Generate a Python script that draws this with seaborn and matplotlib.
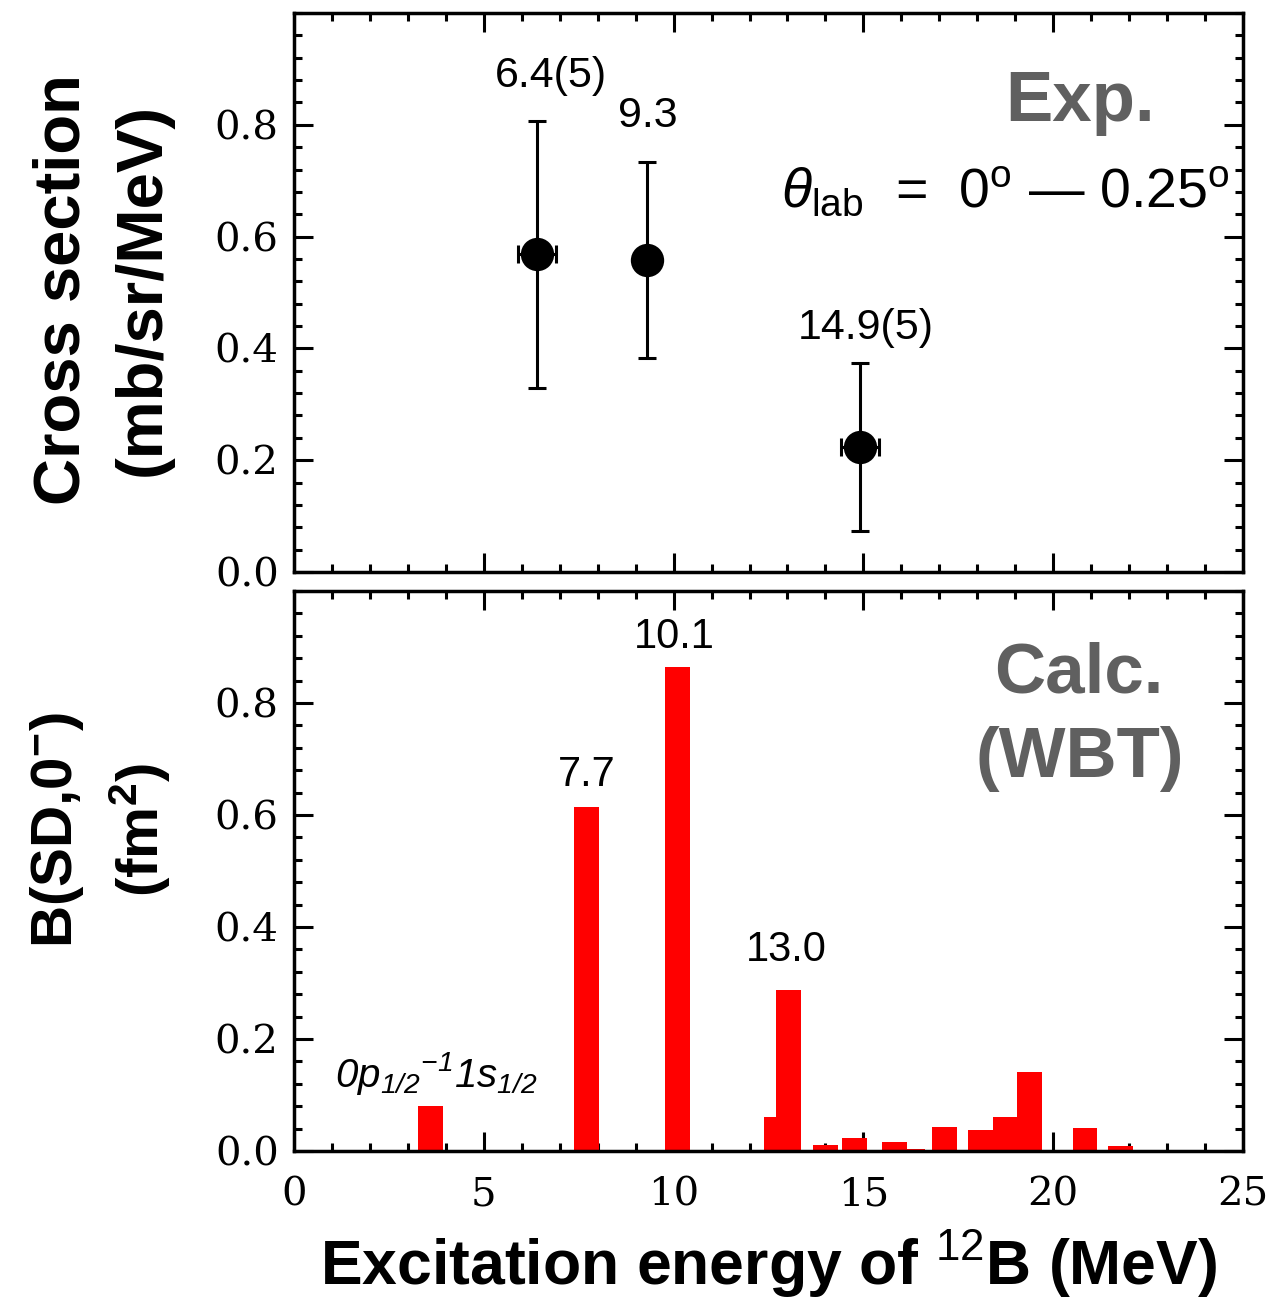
import numpy as np
import pandas as pd
import matplotlib
matplotlib.use("Agg")
import matplotlib.pyplot as plt
import seaborn as sns
from matplotlib.ticker import MultipleLocator, FixedLocator, FormatStrFormatter

# ---------------- data ----------------
# Experimental (upper panel)
exp_energy = [6.4, 9.3, 14.9]
exp_xs = [0.568, 0.558, 0.223]
exp_xs_err = [0.238, 0.175, 0.150]
exp_energy_err = [0.5, 0.0, 0.5]
exp_labels = ["6.4(5)", "9.3", "14.9(5)"]

# Calculated B(SD,0-) (lower panel)
calc_energy = [3.60, 7.71, 10.11, 12.70, 13.02, 14.00, 14.77, 15.82, 16.31,
               17.14, 18.08, 18.73, 19.38, 20.84, 21.77]
calc_bsd = [0.080, 0.614, 0.864, 0.060, 0.287, 0.011, 0.023, 0.016, 0.004,
            0.043, 0.038, 0.060, 0.141, 0.041, 0.009]
calc_labels = ["7.7", "10.1", "13.0"]

y_ticks = [0.0, 0.2, 0.4, 0.6, 0.8]
x_ticks = [0, 5, 10, 15, 20, 25]

# ---------------- style ----------------
sns.set_theme(style="ticks")
plt.rcParams["font.family"] = ["Liberation Sans", "DejaVu Sans"]
plt.rcParams.update({
    "mathtext.fontset": "custom",
    "mathtext.rm": "Liberation Sans",
    "mathtext.it": "Liberation Sans:italic",
    "mathtext.bf": "Liberation Sans:bold",
    "mathtext.sf": "Liberation Sans:italic",
    "axes.facecolor": "white",
    "figure.facecolor": "white",
    "axes.labelcolor": "black",
    "text.color": "black",
})

W, H = 1283, 1305
fig = plt.figure(figsize=(W / 100, H / 100), dpi=100)
ax1 = fig.add_axes([294 / W, 1 - 572 / H, 949 / W, 559 / H])
ax2 = fig.add_axes([294 / W, 1 - 1151 / H, 949 / W, 560 / H])

# ---------------- upper panel ----------------
ax1.errorbar(exp_energy, exp_xs, yerr=exp_xs_err, xerr=exp_energy_err,
             fmt="none", ecolor="black", elinewidth=2.2, capsize=6.5,
             capthick=2.2, zorder=2)
sns.scatterplot(x=exp_energy, y=exp_xs, ax=ax1, color="black", s=24 ** 2,
                linewidth=0, zorder=3, legend=False)

lab_pos_top = [(6.77, 0.887), (9.33, 0.816), (15.07, 0.437)]
for (tx, ty), t in zip(lab_pos_top, exp_labels):
    ax1.text(tx, ty, t, fontsize=31, ha="center", va="center", color="black")

ax1.text(20.71, 0.807, "Exp.", fontsize=51, fontweight="bold", color="#606060",
         ha="center", va="baseline")
ax1.text(18.73, 0.652,
         r"$\mathit{\theta}_{\rm lab}$  =  0$^{\rm o}$ $—$ 0.25$^{\rm o}$",
         fontsize=40, ha="center", va="baseline", color="black")

# ---------------- lower panel ----------------
min_gap = np.min(np.diff(np.unique(calc_energy)))
bar_width_mev = 0.65
sns.barplot(x=calc_energy, y=calc_bsd, ax=ax2, native_scale=True, orient="x",
            color="#ff0000", saturation=1, width=bar_width_mev / min_gap,
            linewidth=0, errorbar=None)

lab_pos_bot = [(7.72, 0.671), (10.01, 0.918), (12.96, 0.359)]
for (tx, ty), t in zip(lab_pos_bot, calc_labels):
    ax2.text(tx, ty, t, fontsize=30, ha="center", va="center", color="black")

ax2.text(3.74, 0.139, r"$\mathsf{0p_{1/2}{}^{-1}1s_{1/2}}$", fontsize=29,
         ha="center", va="center", color="black")
ax2.text(20.68, 0.818, "Calc.", fontsize=51, fontweight="bold", color="#606060",
         ha="center", va="baseline")
ax2.text(20.70, 0.668, "(WBT)", fontsize=51, fontweight="bold", color="#606060",
         ha="center", va="baseline")

# ---------------- axes formatting ----------------
for ax in (ax1, ax2):
    ax.set_xlim(0, 25)
    ax.set_ylim(0, 1.0)
    ax.xaxis.set_major_locator(FixedLocator(x_ticks))
    ax.xaxis.set_minor_locator(MultipleLocator(1))
    ax.yaxis.set_major_locator(FixedLocator(y_ticks))
    ax.yaxis.set_minor_locator(MultipleLocator(0.04))
    ax.yaxis.set_major_formatter(FormatStrFormatter("%.1f"))
    ax.xaxis.set_major_formatter(FormatStrFormatter("%d"))
    ax.tick_params(which="both", direction="in", top=True, right=True,
                   bottom=True, left=True, width=2.2, color="black",
                   labelcolor="black", labelsize=29,
                   labelfontfamily="DejaVu Serif")
    ax.tick_params(which="major", length=13.5)
    ax.tick_params(which="minor", length=6)
    ax.tick_params(axis="y", pad=11)
    ax.tick_params(axis="x", pad=18)
    for s in ax.spines.values():
        s.set_linewidth(2.5)
        s.set_color("black")
        s.set_visible(True)
    ax.grid(False)

ax1.tick_params(labelbottom=False)
ax1.set_xlabel("")

ax1.set_ylabel("Cross section\n(mb/sr/MeV)", fontsize=47, fontweight="bold",
               linespacing=1.42, color="black")
ax1.yaxis.set_label_coords(-0.128, 0.505)

ax2.set_ylabel("B(SD,0$^{\\mathbf{-}}$)\n(fm$^{\\mathbf{2}}$)", fontsize=42,
               fontweight="bold", linespacing=1.4, color="black")
ax2.yaxis.set_label_coords(-0.128, 0.573)

ax2.set_xlabel("Excitation energy of $^{12}$B (MeV)", fontsize=45,
               fontweight="bold", color="black")
ax2.xaxis.set_label_coords(0.5, -0.138)

fig.savefig("out.png", dpi=100)
